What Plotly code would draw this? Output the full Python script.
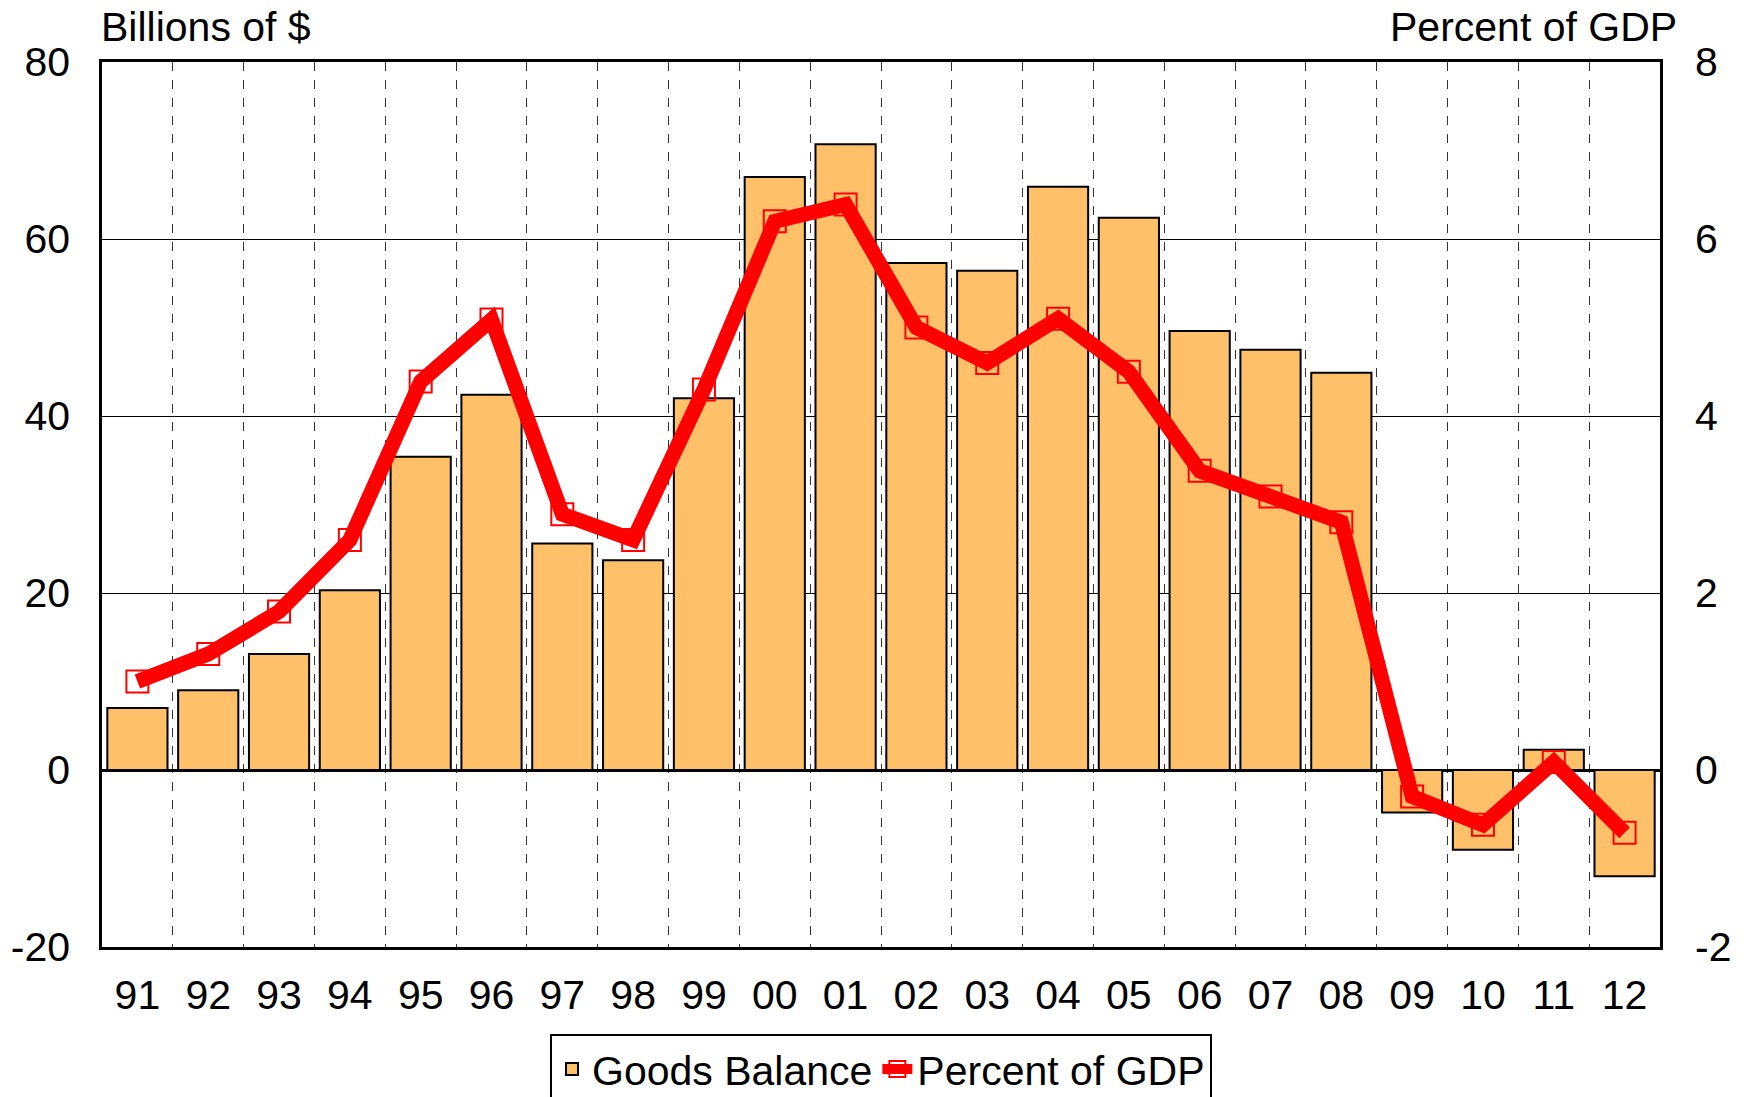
import plotly.graph_objects as go

# years (two-digit labels)
years = ["91", "92", "93", "94", "95", "96", "97", "98", "99", "00", "01",
         "02", "03", "04", "05", "06", "07", "08", "09", "10", "11", "12"]

# goods balance, billions of $
goods_balance = [7.0, 9.0, 13.1, 20.3, 35.4, 42.4, 25.6, 23.7, 42.0, 67.0, 70.7,
                 57.3, 56.4, 65.9, 62.4, 49.6, 47.5, 44.9, -4.8, -9.0, 2.3, -12.0]

# goods balance, percent of GDP
pct_gdp = [1.0, 1.31, 1.79, 2.6, 4.39, 5.09, 2.89, 2.6, 4.3, 6.2, 6.39,
           5.0, 4.6, 5.1, 4.5, 3.38, 3.09, 2.8, -0.3, -0.62, 0.09, -0.71]

# axis ticks (plain hyphen minus, like the original)
left_ticks = [-20, 0, 20, 40, 60, 80]
left_labels = ["-20", "0", "20", "40", "60", "80"]
right_ticks = [-2, 0, 2, 4, 6, 8]
right_labels = ["-2", "0", "2", "4", "6", "8"]

FONT = "Liberation Sans, Arial, sans-serif"
FS = 41

fig = go.Figure()

fig.add_trace(
    go.Bar(
        x=years,
        y=goods_balance,
        name="Goods Balance",
        marker=dict(color="#FEC068", line=dict(color="black", width=2)),
        yaxis="y",
    )
)

fig.add_trace(
    go.Scatter(
        x=years,
        y=pct_gdp,
        name="Percent of GDP",
        mode="lines+markers",
        line=dict(color="#FF0000", width=15),
        marker=dict(symbol="square-open", size=22, color="#FF0000",
                    line=dict(width=2, color="#FF0000")),
        yaxis="y2",
    )
)

fig.update_layout(
    width=1751,
    height=1097,
    margin=dict(l=102, r=91, t=62, b=150, autoexpand=False),
    paper_bgcolor="white",
    plot_bgcolor="white",
    font=dict(family=FONT, size=FS, color="black"),
    bargap=0.15,
    showlegend=True,
    legend=dict(
        orientation="h",
        x=0.5,
        xanchor="center",
        y=-0.098,
        yanchor="top",
        bordercolor="black",
        borderwidth=2,
        bgcolor="white",
        font=dict(family=FONT, size=FS, color="black"),
        itemwidth=30,
        tracegroupgap=0,
    ),
    xaxis=dict(
        type="category",
        range=[-0.5, len(years) - 0.5],
        tickson="boundaries",
        showgrid=True,
        gridcolor="#333333",
        gridwidth=1,
        griddash="dash",
        showline=True,
        mirror=True,
        linecolor="black",
        linewidth=2.5,
        ticks="",
        ticklabelstandoff=10,
        tickfont=dict(family=FONT, size=FS, color="black"),
    ),
    yaxis=dict(
        range=[-20, 80],
        tickvals=left_ticks,
        ticktext=left_labels,
        showgrid=True,
        gridcolor="black",
        gridwidth=1,
        zeroline=True,
        zerolinecolor="black",
        zerolinewidth=2.5,
        showline=True,
        mirror=True,
        linecolor="black",
        linewidth=2.5,
        ticks="",
        ticklabelstandoff=21,
        tickfont=dict(family=FONT, size=FS, color="black"),
    ),
    yaxis2=dict(
        range=[-2, 8],
        tickvals=right_ticks,
        ticktext=right_labels,
        overlaying="y",
        side="right",
        showgrid=False,
        zeroline=False,
        showline=False,
        ticks="",
        ticklabelstandoff=34,
        tickfont=dict(family=FONT, size=FS, color="black"),
    ),
    annotations=[
        dict(text="Billions of $", xref="paper", yref="paper", x=-0.002, y=1.04,
             xanchor="left", yanchor="middle", showarrow=False,
             font=dict(family=FONT, size=FS, color="black")),
        dict(text="Percent of GDP", xref="paper", yref="paper", x=1.012, y=1.04,
             xanchor="right", yanchor="middle", showarrow=False,
             font=dict(family=FONT, size=FS, color="black")),
    ],
)

# drop the default 8px body margin so the figure fills the window exactly
fig.write_html("out.html", config={"displayModeBar": False},
               post_script="document.body.style.margin='0';")
